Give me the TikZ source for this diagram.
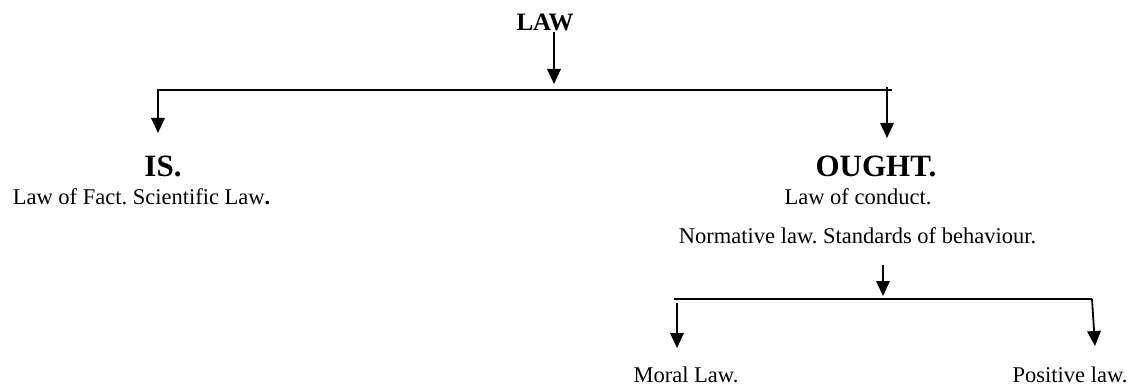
\documentclass[tikz,border=0pt]{standalone}
\usepackage{fontspec}
\setmainfont{Liberation Serif}
\usetikzlibrary{arrows.meta}
\frenchspacing
\begin{document}
\begin{tikzpicture}[x=1pt,y=-1pt,
  txt/.style={inner sep=0pt,anchor=base,font=\fontsize{22.5}{24}\selectfont},
  head/.style={inner sep=0pt,anchor=base,font=\fontsize{31}{34}\selectfont\bfseries},
  top/.style={inner sep=0pt,anchor=base,font=\fontsize{25}{27}\selectfont\bfseries},
  bar/.style={line width=2pt},
  arr/.style={line width=1.8pt,-{Triangle[length=15pt,width=13.5pt]}}]
\useasboundingbox (0,0) rectangle (1145,385);
% texts
\node[top] (law) at (545,31) {LAW};
\node[head] (is) at (163,176) {IS.};
\node[head] (ought) at (876,176) {OUGHT.};
\node[txt] (fact) at (141.5,204) {Law of Fact. Scientific Law\textbf{.}};
\node[txt] (conduct) at (858,204) {Law of conduct.};
\node[txt] (norm) at (857.5,243) {Normative law. Standards of behaviour.};
\node[txt] (moral) at (686,382) {Moral Law.};
\node[txt] (positive) at (1070,382) {Positive law.};
% junction coordinates
\coordinate (lawtop) at (554,32);
\coordinate (lawtip) at (554,84);
\coordinate (barL) at (157,90);
\coordinate (barR) at (892,90);
\coordinate (isTip) at (158,133);
\coordinate (oughtTop) at (887,87);
\coordinate (oughtTip) at (887,138);
\coordinate (subTop) at (883,265);
\coordinate (subTip) at (883,296);
\coordinate (subL) at (674,299);
\coordinate (subR) at (1092,299);
\coordinate (moralTop) at (677,303);
\coordinate (moralTip) at (677,348);
\coordinate (posTip) at (1095,346);
% connectors
\draw[arr] (lawtop) -- (lawtip);
\draw[bar] (barL) -- (barR);
\draw[arr] ([xshift=1pt]barL) -- (isTip);
\draw[arr] (oughtTop) -- (oughtTip);
\draw[arr] (subTop) -- (subTip);
\draw[bar] (subL) -- (subR);
\draw[arr] (moralTop) -- (moralTip);
\draw[arr] (subR) -- (posTip);
\end{tikzpicture}
\end{document}
